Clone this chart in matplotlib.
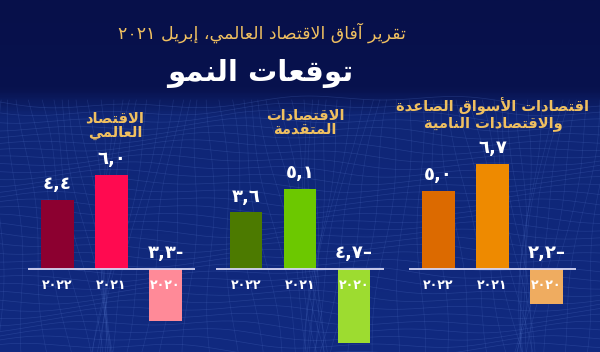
#!/usr/bin/env python

import numpy as np
import matplotlib.pyplot as plt
from matplotlib.colors import LinearSegmentedColormap

# chart values, bars ordered left to right as in the picture (right-to-left years)
years = ['٢٠٢٢', '٢٠٢١', '٢٠٢٠']
world = [4.4, 6.0, -3.3]
advanced = [3.6, 5.1, -4.7]
emerging = [5.0, 6.7, -2.2]

title_top = 'تقرير آفاق الاقتصاد العالمي، إبريل ٢٠٢١'
title_main = 'توقعات النمو'
panel_titles = ['الاقتصاد\nالعالمي',
                'الاقتصادات\nالمتقدمة',
                'اقتصادات الأسواق الصاعدة\nوالاقتصادات النامية']

# presentation forms: isolated, final, initial, medial
FORMS = {
    'ا': ('\uFE8D', '\uFE8E', None, None),
    'آ': ('\uFE81', '\uFE82', None, None),
    'أ': ('\uFE83', '\uFE84', None, None),
    'إ': ('\uFE87', '\uFE88', None, None),
    'ب': ('\uFE8F', '\uFE90', '\uFE91', '\uFE92'),
    'ة': ('\uFE93', '\uFE94', None, None),
    'ت': ('\uFE95', '\uFE96', '\uFE97', '\uFE98'),
    'ح': ('\uFEA1', '\uFEA2', '\uFEA3', '\uFEA4'),
    'د': ('\uFEA9', '\uFEAA', None, None),
    'ر': ('\uFEAD', '\uFEAE', None, None),
    'س': ('\uFEB1', '\uFEB2', '\uFEB3', '\uFEB4'),
    'ص': ('\uFEB9', '\uFEBA', '\uFEBB', '\uFEBC'),
    'ع': ('\uFEC9', '\uFECA', '\uFECB', '\uFECC'),
    'ف': ('\uFED1', '\uFED2', '\uFED3', '\uFED4'),
    'ق': ('\uFED5', '\uFED6', '\uFED7', '\uFED8'),
    'ل': ('\uFEDD', '\uFEDE', '\uFEDF', '\uFEE0'),
    'م': ('\uFEE1', '\uFEE2', '\uFEE3', '\uFEE4'),
    'ن': ('\uFEE5', '\uFEE6', '\uFEE7', '\uFEE8'),
    'ه': ('\uFEE9', '\uFEEA', '\uFEEB', '\uFEEC'),
    'و': ('\uFEED', '\uFEEE', None, None),
    'ي': ('\uFEF1', '\uFEF2', '\uFEF3', '\uFEF4'),
}
LAMALEF = {
    'ا': ('\uFEFB', '\uFEFC', None, None),
    'أ': ('\uFEF7', '\uFEF8', None, None),
    'إ': ('\uFEF9', '\uFEFA', None, None),
    'آ': ('\uFEF5', '\uFEF6', None, None),
}
DIGITS = '٠١٢٣٤٥٦٧٨٩0123456789'


def shape_line(line):
    # merge lam + alef into ligature tokens
    toks = []
    i = 0
    while i < len(line):
        c = line[i]
        if c == 'ل' and i + 1 < len(line) and line[i + 1] in LAMALEF:
            toks.append(LAMALEF[line[i + 1]])
            i += 2
        else:
            toks.append(FORMS.get(c, c))
            i += 1

    def joining(t):
        return isinstance(t, tuple)

    def dual(t):
        return isinstance(t, tuple) and t[2] is not None

    glyphs = []
    for k, t in enumerate(toks):
        if not joining(t):
            glyphs.append(t)
            continue
        prev = k > 0 and dual(toks[k - 1])
        nxt = k < len(toks) - 1 and dual(t) and joining(toks[k + 1])
        if prev and nxt:
            glyphs.append(t[3])
        elif prev:
            glyphs.append(t[1])
        elif nxt:
            glyphs.append(t[2])
        else:
            glyphs.append(t[0])

    # visual order: reverse, but keep digit runs left to right
    glyphs = glyphs[::-1]
    out, run = [], []
    for g in glyphs:
        if g in DIGITS:
            run.append(g)
        else:
            out.extend(run[::-1])
            run = []
            out.append(g)
    out.extend(run[::-1])
    return ''.join(out)


def ar(text):
    return '\n'.join(shape_line(l) for l in text.split('\n'))


def ar_num(v, dash):
    s = ('%.1f' % abs(v)).replace('.', ',')
    s = ''.join('٠١٢٣٤٥٦٧٨٩'[int(c)] if c.isdigit() else c for c in s)
    return s + dash if v < 0 else s


W, H = 600, 352
fig = plt.figure(figsize=(6, 3.52), dpi=100)
plt.rcParams['font.family'] = ['DejaVu Sans']


def px(x, y, w, h):
    return [x / W, 1 - (y + h) / H, w / W, h / H]


# background with a wavy mesh
bg = fig.add_axes([0, 0, 1, 1])
cmap = LinearSegmentedColormap.from_list(
    'bg', [(0, '#07104a'), (0.25, '#08124e'), (0.33, '#0f2676'), (1, '#112a80')])
bg.imshow(np.linspace(0, 1, 200)[:, None], aspect='auto', cmap=cmap,
          extent=[0, W, H, 0])
xs = np.linspace(0, W, 300)
for j in range(34):
    y0 = 102 + j * 7.5
    ys = y0 + 5 * np.sin(xs / 80 + j * 0.3) + 3 * np.sin(xs / 27 + j * 0.7)
    bg.plot(xs, ys, color='#5a7cd0', lw=0.5, alpha=0.25)
yy = np.linspace(100, H, 100)
for j in range(-10, 70):
    x0 = j * 10
    xv = x0 + (yy - 100) * 0.2 * np.sin(j * 0.3) + 4 * np.sin(yy / 35 + j)
    bg.plot(xv, yy, color='#5a7cd0', lw=0.5, alpha=0.2)
bg.set_xlim(0, W)
bg.set_ylim(H, 0)
bg.axis('off')

fig.text(262 / W, 1 - 33 / H, ar(title_top), color='#f0c060', fontsize=12.5,
         ha='center', va='center')
fig.text(260 / W, 1 - 74 / H, ar(title_main), color='white', fontsize=21,
         fontweight='bold', ha='center', va='center')

panels = [
    (world, ['#8c0030', '#ff0a50', '#ff8a98'], '-', 27.8, 115, 125),
    (advanced, ['#4c7a00', '#6cc800', '#9ddc30'], '–', 216.3, 305, 122),
    (emerging, ['#dc6a00', '#ee8a00', '#efac60'], '–', 408.8, 493, 114),
]
scale = 15.7   # pixels per percentage point
base_y = 269
top_y, bot_y = 140, 345
for (vals, cols, dash, left, tx, ty), ttl in zip(panels, panel_titles):
    ax = fig.add_axes(px(left, top_y, 3.1 * 54, bot_y - top_y))
    ax.patch.set_alpha(0)
    x = np.arange(len(years))
    ax.bar(x, vals, width=0.61, color=cols, zorder=1)
    ax.axhline(0, color='#d8d8f4', lw=1.3, zorder=2)
    ax.set_xlim(-0.55, 2.55)
    ax.set_ylim(-(bot_y - base_y) / scale, (base_y - top_y) / scale)
    ax.set_xticks([])
    ax.set_yticks([])
    for s in ax.spines.values():
        s.set_visible(False)
    for xi, v, yr in zip(x, vals, years):
        ax.annotate(ar_num(v, dash), (xi, max(v, 0)), xytext=(0, 5),
                    textcoords='offset points', ha='center', va='bottom',
                    color='white', fontsize=13, fontweight='bold', zorder=3)
        ax.annotate(yr, (xi, 0), xytext=(0, -12), textcoords='offset points',
                    ha='center', va='center', color='white', fontsize=9,
                    fontweight='bold', zorder=3)
    fig.text(tx / W, 1 - ty / H, ar(ttl), color='#f0c060', fontsize=10.5,
             fontweight='bold', ha='center', va='center', linespacing=1.0)

fig.savefig('out.png', dpi=100)
